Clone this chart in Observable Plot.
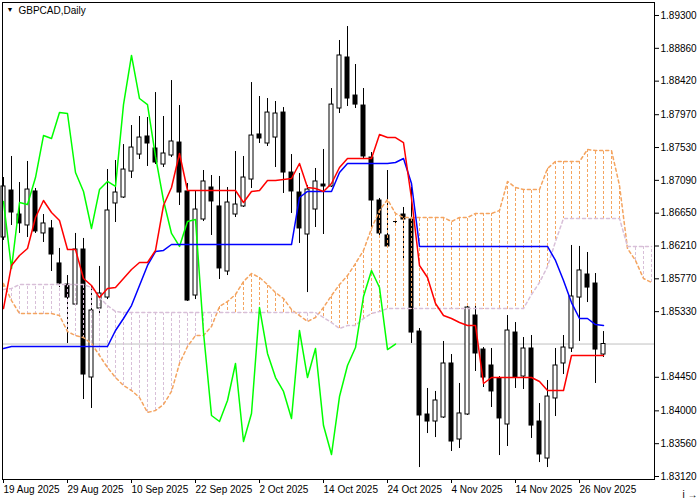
<!DOCTYPE html>
<html><head><meta charset="utf-8">
<script src="https://cdn.jsdelivr.net/npm/d3@7"></script>
<script src="https://cdn.jsdelivr.net/npm/@observablehq/plot@0.6"></script>
<style>
html,body{margin:0;padding:0;background:#fff;}
#chart{width:700px;height:500px;overflow:hidden;}
</style></head>
<body><div id="chart"></div>
<script>
const symbolTitle = "GBPCAD,Daily";

// Daily bars, index 0 = 19 Aug 2025
const open = [1.86324, 1.86954, 1.86632, 1.86485, 1.86941, 1.86378, 1.86445, 1.85976, 1.85693, 1.85425,
 1.86163, 1.84447, 1.85372, 1.85519, 1.86780, 1.86860, 1.87208, 1.87436, 1.87678, 1.87517,
 1.87302, 1.87423, 1.87597, 1.86941, 1.85546, 1.86565, 1.86994, 1.86740, 1.85868, 1.86632,
 1.86740, 1.87101, 1.87705, 1.87584, 1.87664, 1.87999, 1.87195, 1.86927, 1.86364, 1.86699,
 1.87034, 1.87008, 1.88053, 1.88737, 1.88227, 1.88093, 1.87396, 1.86820, 1.86351, 1.86538,
 1.86632, 1.86565, 1.85063, 1.83951, 1.83857, 1.83911, 1.84635, 1.83616, 1.83951, 1.85278,
 1.84822, 1.84608, 1.84434, 1.83817, 1.85050, 1.84460, 1.84836, 1.83857, 1.83361, 1.84166,
 1.84635, 1.84836, 1.85519, 1.85828, 1.85707, 1.84755];
const high = [1.87128, 1.87410, 1.87061, 1.87343, 1.86981, 1.86632, 1.86552, 1.86177, 1.85814, 1.86378,
 1.86311, 1.85680, 1.85936, 1.87235, 1.87356, 1.87570, 1.87825, 1.87946, 1.87932, 1.88267,
 1.87946, 1.88428, 1.88093, 1.87048, 1.86941, 1.87222, 1.87155, 1.87142, 1.86994, 1.87477,
 1.87410, 1.88401, 1.88214, 1.88187, 1.88147, 1.88066, 1.87436, 1.87182, 1.87021, 1.87249,
 1.87504, 1.88321, 1.88965, 1.89152, 1.88643, 1.88321, 1.87463, 1.86847, 1.87222, 1.86565,
 1.86726, 1.86994, 1.85104, 1.84300, 1.84260, 1.84930, 1.84755, 1.84367, 1.85412, 1.85412,
 1.84849, 1.84836, 1.84460, 1.85278, 1.85184, 1.84983, 1.85010, 1.84098, 1.84407, 1.84836,
 1.85010, 1.86217, 1.86204, 1.86123, 1.85841, 1.85063];
const low = [1.86284, 1.86485, 1.86378, 1.86324, 1.86378, 1.86257, 1.85868, 1.85653, 1.84903, 1.85399,
 1.84152, 1.84032, 1.85305, 1.85492, 1.86525, 1.86847, 1.87115, 1.87369, 1.87276, 1.87302,
 1.87262, 1.87396, 1.86753, 1.85466, 1.85492, 1.86538, 1.86351, 1.85761, 1.85814, 1.86592,
 1.86726, 1.86981, 1.87584, 1.87544, 1.87262, 1.86914, 1.86646, 1.86244, 1.85586, 1.86458,
 1.86364, 1.86994, 1.87986, 1.88080, 1.88053, 1.87369, 1.86458, 1.86311, 1.86177, 1.86512,
 1.86016, 1.84903, 1.83240, 1.83696, 1.83642, 1.83898, 1.83455, 1.83495, 1.83938, 1.84528,
 1.84313, 1.84045, 1.83401, 1.83522, 1.84300, 1.84286, 1.83630, 1.83307, 1.83240, 1.83924,
 1.84487, 1.84782, 1.84930, 1.85452, 1.84367, 1.84715];
const close = [1.87008, 1.86659, 1.86512, 1.86967, 1.86405, 1.86512, 1.86096, 1.85707, 1.85519, 1.86163,
 1.84487, 1.85345, 1.85573, 1.86686, 1.86927, 1.87235, 1.87530, 1.87664, 1.87584, 1.87329,
 1.87450, 1.87611, 1.86927, 1.85479, 1.86699, 1.87075, 1.86807, 1.85909, 1.86793, 1.86766,
 1.87128, 1.87691, 1.87651, 1.87999, 1.87986, 1.87195, 1.86941, 1.86445, 1.86967, 1.87075,
 1.87008, 1.88106, 1.88764, 1.88187, 1.88106, 1.87410, 1.86820, 1.86378, 1.86204, 1.86538,
 1.86565, 1.85050, 1.83938, 1.83857, 1.84139, 1.84635, 1.83589, 1.83965, 1.85385, 1.84769,
 1.84447, 1.84260, 1.83898, 1.85077, 1.84447, 1.84836, 1.83803, 1.83415, 1.84192, 1.84608,
 1.84849, 1.85533, 1.85882, 1.85653, 1.84822, 1.84896];

// Ichimoku lines
const tenkan = [1.85372, 1.85949, 1.86083, 1.86177, 1.86592, 1.86820, 1.86659, 1.86552, 1.86163, 1.86163,
 1.85774, 1.85680, 1.85519, 1.85640, 1.85653, 1.85774, 1.85895, 1.85989, 1.85989, 1.86150,
 1.86753, 1.86994, 1.87450, 1.86954, 1.86954, 1.86954, 1.86954, 1.86954, 1.86954, 1.86954,
 1.86793, 1.86941, 1.86954, 1.87088, 1.87088, 1.87101, 1.87115, 1.87316, 1.86994, 1.86981,
 1.86941, 1.87048, 1.87262, 1.87383, 1.87383, 1.87383, 1.87383, 1.87704, 1.87664, 1.87664,
 1.87597, 1.86847, 1.85949, 1.85788, 1.85439, 1.85278, 1.85238, 1.85184, 1.85144, 1.85144,
 1.84367, 1.84447, 1.84447, 1.84447, 1.84447, 1.84447, 1.84447, 1.84394, 1.84273, 1.84273,
 1.84273, 1.84742, 1.84742, 1.84742, 1.84742, 1.84742];
const kijun = [1.84836, 1.84863, 1.84863, 1.84863, 1.84863, 1.84863, 1.84863, 1.84863, 1.84863, 1.84863,
 1.84863, 1.84863, 1.84863, 1.84863, 1.85077, 1.85238, 1.85412, 1.85680, 1.85949, 1.86136,
 1.86150, 1.86230, 1.86230, 1.86230, 1.86230, 1.86230, 1.86230, 1.86230, 1.86230, 1.86230,
 1.86230, 1.86230, 1.86230, 1.86230, 1.86230, 1.86230, 1.86230, 1.86860, 1.86941, 1.86941,
 1.86941, 1.86941, 1.87195, 1.87316, 1.87316, 1.87316, 1.87316, 1.87316, 1.87316, 1.87329,
 1.87383, 1.87048, 1.86204, 1.86204, 1.86204, 1.86204, 1.86204, 1.86204, 1.86204, 1.86204,
 1.86204, 1.86204, 1.86204, 1.86204, 1.86204, 1.86204, 1.86204, 1.86204, 1.86204, 1.86016,
 1.85747, 1.85452, 1.85238, 1.85238, 1.85157, 1.85144];
// Senkou spans (already shifted 26 bars forward), indices 0..81
const spanA = [1.85707, 1.85479, 1.85305, 1.85305, 1.85305, 1.85305, 1.85305, 1.85278, 1.85063, 1.85010,
 1.84983, 1.84903, 1.84742, 1.84581, 1.84447, 1.84340, 1.84273, 1.84179, 1.83978, 1.84005,
 1.84085, 1.84260, 1.84635, 1.84863, 1.85010, 1.85010, 1.85130, 1.85399, 1.85466, 1.85560,
 1.85734, 1.85841, 1.85788, 1.85693, 1.85586, 1.85506, 1.85358, 1.85278, 1.85198, 1.85251,
 1.85385, 1.85546, 1.85693, 1.85814, 1.85976, 1.86150, 1.86445, 1.86686, 1.86833, 1.86646,
 1.86592, 1.86592, 1.86592, 1.86592, 1.86592, 1.86592, 1.86538, 1.86592, 1.86592, 1.86646,
 1.86646, 1.86646, 1.86686, 1.87075, 1.86994, 1.86967, 1.86967, 1.86967, 1.87249, 1.87343,
 1.87343, 1.87343, 1.87343, 1.87504, 1.87490, 1.87490, 1.87490, 1.87021, 1.86177, 1.86016,
 1.85774, 1.85721];
const spanB = [1.85627, 1.85640, 1.85693, 1.85693, 1.85693, 1.85693, 1.85693, 1.85693, 1.85693, 1.85693,
 1.85693, 1.85653, 1.85519, 1.85412, 1.85332, 1.85318, 1.85318, 1.85318, 1.85318, 1.85318,
 1.85318, 1.85318, 1.85318, 1.85318, 1.85318, 1.85318, 1.85318, 1.85318, 1.85318, 1.85318,
 1.85318, 1.85318, 1.85318, 1.85318, 1.85318, 1.85318, 1.85318, 1.85318, 1.85318, 1.85318,
 1.85251, 1.85184, 1.85104, 1.85144, 1.85144, 1.85238, 1.85305, 1.85332, 1.85372, 1.85372,
 1.85372, 1.85372, 1.85372, 1.85372, 1.85372, 1.85372, 1.85372, 1.85372, 1.85372, 1.85372,
 1.85372, 1.85372, 1.85372, 1.85372, 1.85372, 1.85372, 1.85560, 1.85721, 1.85935, 1.86271,
 1.86579, 1.86579, 1.86579, 1.86579, 1.86579, 1.86579, 1.86579, 1.86579, 1.86204, 1.86204,
 1.86204, 1.86204];
const chikouShift = 26;

// Axis labels
const dateBars = [0, 8, 16, 24, 32, 40, 48, 56, 64, 72];
const dateLabels = ["19 Aug 2025", "29 Aug 2025", "10 Sep 2025", "22 Sep 2025", "2 Oct 2025",
  "14 Oct 2025", "24 Oct 2025", "4 Nov 2025", "14 Nov 2025", "26 Nov 2025"];
const priceTicks = [1.89300, 1.88860, 1.88420, 1.87970, 1.87530, 1.87090, 1.86650, 1.86210,
  1.85770, 1.85330, 1.84450, 1.84000, 1.83560, 1.83120];

const bars = open.map((o, i) => ({i, o, h: high[i], l: low[i], c: close[i]}));
const cloud = spanA.map((a, i) => ({i, a, b: spanB[i]}));
const tk = tenkan.map((v, i) => ({i, v}));
const kj = kijun.map((v, i) => ({i, v}));
const ch = close.slice(chikouShift).map((v, i) => ({i, v}));
const lastClose = close[close.length - 1];

const FONT = "'Liberation Sans', Arial, sans-serif";
const half = 0.25;
const SANDY = "#f4a460", THISTLE = "#d8bfd8";

const chart = Plot.plot({
  width: 700, height: 500,
  marginLeft: 2, marginRight: 46, marginTop: 2, marginBottom: 21,
  style: {fontFamily: FONT, fontSize: "10px", background: "#fff", color: "#000", overflow: "visible"},
  x: {domain: [-0.125, 81.375], axis: null},
  y: {domain: [1.830798, 1.8947427], axis: null},
  marks: [
    Plot.ruleY([lastClose], {stroke: "#c0c0c0"}),
    Plot.ruleX(bars, {x: "i", y1: "l", y2: "h", stroke: "#000"}),
    Plot.rect(bars.filter(d => d.o !== d.c && d.c > d.o), {
      x1: d => d.i - half, x2: d => d.i + half, y1: "o", y2: "c", fill: "#fff", stroke: "#000"
    }),
    Plot.rect(bars.filter(d => d.o !== d.c && d.c < d.o), {
      x1: d => d.i - half, x2: d => d.i + half, y1: "o", y2: "c", fill: "#000", stroke: "#000"
    }),
    Plot.ruleY(bars.filter(d => d.o === d.c), {y: "o", x1: d => d.i - half, x2: d => d.i + half, stroke: "#000"}),
    Plot.link(cloud.filter(d => d.a >= d.b), {x1: "i", x2: "i", y1: "a", y2: "b", stroke: SANDY,
      strokeDasharray: "3,2", shapeRendering: "crispEdges"}),
    Plot.link(cloud.filter(d => d.a < d.b), {x1: "i", x2: "i", y1: "a", y2: "b", stroke: THISTLE,
      strokeDasharray: "3,2", shapeRendering: "crispEdges"}),
    Plot.line(cloud, {x: "i", y: "a", stroke: SANDY, strokeDasharray: "3,3"}),
    Plot.line(cloud, {x: "i", y: "b", stroke: THISTLE, strokeDasharray: "3,3"}),
    Plot.line(ch, {x: "i", y: "v", stroke: "#00ff00"}),
    Plot.line(kj, {x: "i", y: "v", stroke: "#0000ff"}),
    Plot.line(tk, {x: "i", y: "v", stroke: "#ff0000"}),
    Plot.frame({stroke: "#000"}),
    Plot.axisY({anchor: "right", ticks: priceTicks, tickFormat: d => d.toFixed(5),
      tickSize: 4, tickPadding: 2, textAnchor: "start", fontSize: 10, fill: "#000"}),
    Plot.axisX({ticks: dateBars, tickFormat: d => dateLabels[dateBars.indexOf(d)],
      tickSize: 4, tickPadding: 2, textAnchor: "start", fontSize: 10, fill: "#000"}),
    Plot.text([lastClose], {y: d => d, frameAnchor: "right", dx: 7, textAnchor: "start",
      text: d => d.toFixed(5), fill: "#fff", fontSize: 10, ariaLabel: "last-price"}),
    Plot.text([symbolTitle], {frameAnchor: "top-left", dx: 16, dy: 4, textAnchor: "start",
      lineAnchor: "top", fontSize: 10, fill: "#000"}),
    Plot.text(["▼"], {frameAnchor: "top-left", dx: 4, dy: 5, textAnchor: "start",
      lineAnchor: "top", fontSize: 7, fill: "#000"})
  ]
});
document.getElementById("chart").append(chart);

const lp = chart.querySelector('g[aria-label="last-price"]');
if (lp) {
  const t = lp.querySelector("text");
  const bb = t.getBBox();
  const r = document.createElementNS("http://www.w3.org/2000/svg", "rect");
  r.setAttribute("x", bb.x - 5);
  r.setAttribute("y", bb.y - 1.5);
  r.setAttribute("width", bb.width + 9);
  r.setAttribute("height", bb.height + 3);
  r.setAttribute("fill", "#000");
  if (t.getAttribute("transform")) r.setAttribute("transform", t.getAttribute("transform"));
  lp.insertBefore(r, t);
}
</script>
</body></html>
